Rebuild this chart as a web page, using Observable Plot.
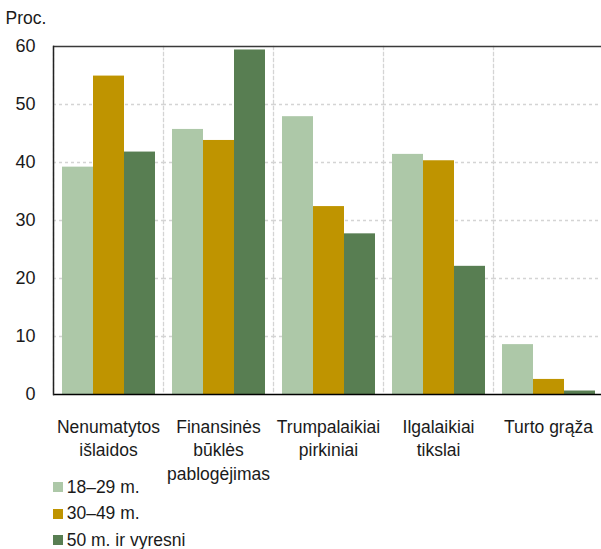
<!DOCTYPE html>
<html>
<head>
<meta charset="utf-8">
<script src="https://cdn.jsdelivr.net/npm/d3@7"></script>
<script src="https://cdn.jsdelivr.net/npm/@observablehq/plot@0.6"></script>
<style>
  html, body { margin: 0; padding: 0; background: #fff; overflow: hidden; }
  body { font-family: "Liberation Sans", Arial, sans-serif; color: #1a1a1a; width: 601px; }
  .title { font-size: 17.5px; height: 21px; line-height: 19px; padding: 9px 0 0 5.5px; }
  .legend { padding-left: 52.7px; font-size: 17.5px; }
  .legend .row { display: flex; align-items: center; height: 26.6px; }
  .legend .sw { width: 10px; height: 10px; margin-right: 4px; }
  svg { display: block; overflow: visible; }
</style>
</head>
<body>
<div class="title">Proc.</div>
<div id="chart"></div>
<div class="legend" id="legend"></div>
<script>
const categories = ["Nenumatytos\nišlaidos", "Finansinės\nbūklės\npablogėjimas", "Trumpalaikiai\npirkiniai", "Ilgalaikiai\ntikslai", "Turto grąža"];
const ages = ["18–29 m.", "30–49 m.", "50 m. ir vyresni"];
const v18_29 = [39.2, 45.7, 47.9, 41.4, 8.6];
const v30_49 = [54.9, 43.8, 32.4, 40.3, 2.6];
const v50plus = [41.8, 59.4, 27.7, 22.1, 0.6];
const yTicks = [0, 10, 20, 30, 40, 50, 60];
const colors = ["#adc8a8", "#bf9400", "#587e52"];

const series = [v18_29, v30_49, v50plus];
const data = categories.flatMap((c, i) => ages.map((a, j) => ({cat: c, age: a, value: series[j][i]})));

const chart = Plot.plot({
  width: 601,
  height: 444,
  marginTop: 16,
  marginBottom: 80,
  marginLeft: 53,
  marginRight: 0,
  style: {fontFamily: "'Liberation Sans', Arial, sans-serif", color: "#1a1a1a", background: "transparent"},
  fx: {domain: categories, range: [53.3, 603.3], paddingInner: 0, paddingOuter: 0, axis: null},
  x: {domain: ages, paddingInner: 0, paddingOuter: 0.257, axis: null},
  y: {domain: [0, 60], axis: null},
  color: {domain: ages, range: colors},
  marks: [
    Plot.gridY([10, 20, 30, 40, 50], {stroke: "#d4d4d4", strokeOpacity: 1, strokeWidth: 1.3, strokeDasharray: "3,3"}),
    Plot.frame({anchor: "left", stroke: "#d4d4d4", strokeWidth: 1.3, strokeDasharray: "3,3"}),
    Plot.barY(data, {fx: "cat", x: "age", y: "value", fill: "age"}),
    Plot.ruleY([60], {stroke: "#3a3a3a", strokeWidth: 1.5}),
    Plot.ruleY([0], {stroke: "#000", strokeWidth: 1.5}),
    Plot.frame({anchor: "left", stroke: "#222", strokeWidth: 1.5, facetAnchor: "left"}),
    Plot.axisY({ticks: yTicks, tickSize: 0, tickPadding: 18, fontSize: 18, label: null}),
    Plot.axisFx({anchor: "bottom", tickSize: 0, tickPadding: 21, fontSize: 17.5, lineHeight: 1.37, label: null})
  ]
});
document.getElementById("chart").append(chart);

const legend = document.getElementById("legend");
ages.forEach((a, i) => {
  const row = document.createElement("div");
  row.className = "row";
  const sw = document.createElement("span");
  sw.className = "sw";
  sw.style.background = colors[i];
  const t = document.createElement("span");
  t.textContent = a;
  row.append(sw, t);
  legend.append(row);
});
</script>
</body>
</html>
